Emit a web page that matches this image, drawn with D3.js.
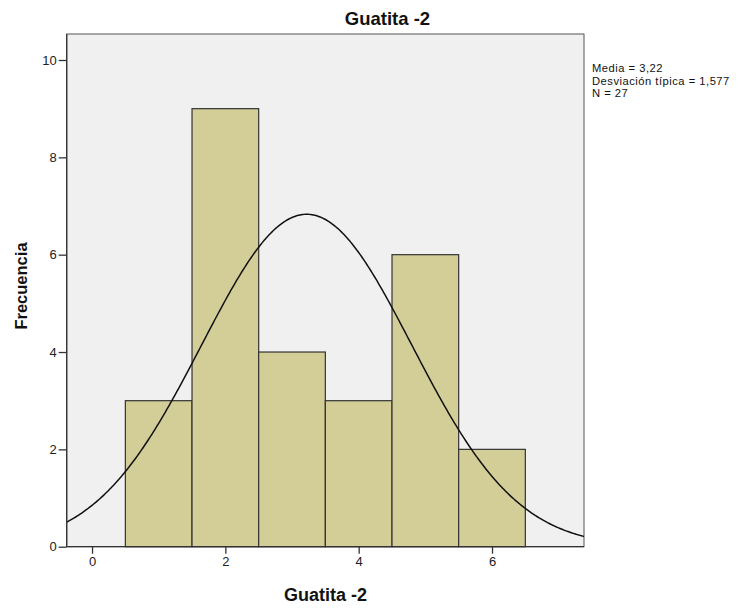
<!DOCTYPE html>
<html><head><meta charset="utf-8">
<script src="https://cdn.jsdelivr.net/npm/d3@7"></script>
<style>body{margin:0;background:#fff;}text{font-family:"Liberation Sans",Arial,sans-serif;}</style>
</head><body>
<svg id="c" width="747" height="608"></svg>
<script>
const binCenters = [1, 2, 3, 4, 5, 6];
const counts = [3, 9, 4, 3, 6, 2];
const xTicks = [0, 2, 4, 6];
const yTicks = [0, 2, 4, 6, 8, 10];
const mean = 3.22, sd = 1.577, n = 27;
const statLines = ["Media = 3,22", "Desviación típica = 1,577", "N = 27"];
const title = "Guatita -2", xTitle = "Guatita -2", yTitle = "Frecuencia";

const L = 66.7, R = 584, T = 34, B = 546.7;
const svg = d3.select("#c");
const x = d3.scaleLinear().domain([-0.38, 7.38]).range([L, R]);
const y = d3.scaleLinear().domain([0, 10]).range([B, 60]);

svg.append("rect").attr("x", L).attr("y", T).attr("width", R - L).attr("height", B - T)
  .attr("fill", "#f0f0f0").attr("stroke", "#555").attr("stroke-width", 1);

svg.append("g").selectAll("rect").data(binCenters).join("rect")
  .attr("x", d => x(d - 0.5)).attr("width", d => x(d + 0.5) - x(d - 0.5))
  .attr("y", (d, i) => y(counts[i])).attr("height", (d, i) => y(0) - y(counts[i]))
  .attr("fill", "#d3ce98").attr("stroke", "#333").attr("stroke-width", 1.2);

const dens = v => n * Math.exp(-0.5 * ((v - mean) / sd) ** 2) / (sd * Math.sqrt(2 * Math.PI));
const xs = d3.range(-0.38, 7.3801, 0.02);
svg.append("path").datum(xs)
  .attr("d", d3.line().x(v => x(v)).y(v => y(dens(v))))
  .attr("fill", "none").attr("stroke", "#111").attr("stroke-width", 1.5);

svg.append("line").attr("x1", L).attr("x2", L).attr("y1", T).attr("y2", B).attr("stroke", "#333").attr("stroke-width", 1.3);
svg.append("line").attr("x1", L).attr("x2", R).attr("y1", B).attr("y2", B).attr("stroke", "#333").attr("stroke-width", 1.3);

const yAxis = svg.append("g").attr("transform", `translate(${L},0)`)
  .call(d3.axisLeft(y).tickValues(yTicks).tickSize(8).tickSizeOuter(0).tickPadding(2));
yAxis.select(".domain").remove();
yAxis.selectAll("line").attr("stroke", "#333").attr("stroke-width", 1.3);
yAxis.selectAll("text").attr("font-size", 13).attr("fill", "#222").style("font-family", "Liberation Sans, Arial, sans-serif");

const xAxis = svg.append("g").attr("transform", `translate(0,${B})`)
  .call(d3.axisBottom(x).tickValues(xTicks).tickSize(7).tickSizeOuter(0).tickPadding(3));
xAxis.select(".domain").remove();
xAxis.selectAll("line").attr("stroke", "#333").attr("stroke-width", 1.3);
xAxis.selectAll("text").attr("font-size", 13).attr("fill", "#222").style("font-family", "Liberation Sans, Arial, sans-serif");

svg.append("text").attr("x", 387.5).attr("y", 25).attr("text-anchor", "middle")
  .attr("font-size", 18.5).attr("font-weight", "bold").attr("fill", "#111").text(title);
svg.append("text").attr("x", 325.5).attr("y", 601).attr("text-anchor", "middle")
  .attr("font-size", 18).attr("font-weight", "bold").attr("fill", "#111").text(xTitle);
svg.append("text").attr("transform", `translate(26.5,286) rotate(-90)`).attr("text-anchor", "middle")
  .attr("font-size", 16.5).attr("font-weight", "bold").attr("fill", "#111").text(yTitle);

svg.append("g").selectAll("text").data(statLines).join("text")
  .attr("x", 592).attr("y", (d, i) => 72 + i * 12.6).attr("font-size", 11.2)
  .attr("letter-spacing", 0.5).attr("fill", "#111").text(d => d);
</script>
</body></html>
